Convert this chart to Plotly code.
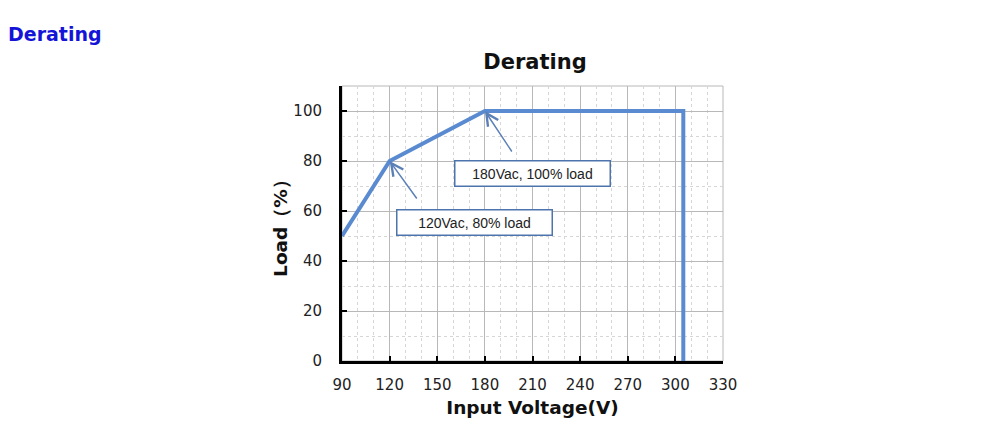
import plotly.graph_objects as go

# Data
voltage = [90, 120, 180, 305, 305]
load = [50, 80, 100, 100, 0]
x_ticks = [90, 120, 150, 180, 210, 240, 270, 300, 330]
y_ticks = [0, 20, 40, 60, 80, 100]
notes = ["120Vac, 80% load", "180Vac, 100% load"]
note_points_x = [120, 180]
note_points_y = [80, 100]

LINE = "#5a8ad0"
ARROW = "#5b80b8"
BOX = "#4d74ad"

fig = go.Figure()
fig.add_trace(go.Scatter(x=voltage, y=load, mode="lines",
                         line=dict(color=LINE, width=4), showlegend=False,
                         hoverinfo="x+y"))

# arrows (tail positions in data coords)
tails = [(137.8, 64.4), (197.6, 83.2)]
for px, py, (tx, ty) in zip(note_points_x, note_points_y, tails):
    fig.add_annotation(x=px, y=py, ax=tx, ay=ty, xref="x", yref="y",
                       axref="x", ayref="y", text="", showarrow=True,
                       arrowhead=5, arrowsize=1.6, arrowwidth=1.5,
                       arrowcolor=ARROW, standoff=0)

# label boxes
boxes = [(173.7, 55.5), (210.2, 75.0)]
for txt, (bx, by) in zip(notes, boxes):
    fig.add_annotation(x=bx, y=by, xref="x", yref="y", text=txt,
                       showarrow=False, xanchor="center", yanchor="middle",
                       font=dict(family="Liberation Sans, Arial", size=14, color="#222"),
                       bgcolor="white", bordercolor=BOX, borderwidth=1.5,
                       borderpad=2, width=150, height=20)

# page heading
fig.add_annotation(x=-0.881, y=1.189, xref="paper", yref="paper",
                   text="<b>Derating</b>", showarrow=False,
                   xanchor="left", yanchor="middle",
                   font=dict(family="DejaVu Sans", size=19, color="#1414d8"))

# plot frame (top/right gray)
fig.add_shape(type="rect", xref="paper", yref="paper", x0=0, y0=0, x1=1, y1=1,
              line=dict(color="#b8b8b8", width=1), layer="below")

fig.update_layout(
    width=1007, height=441,
    margin=dict(l=334, r=292, t=78, b=88, autoexpand=False),
    paper_bgcolor="white", plot_bgcolor="white",
    title=dict(text="<b>Derating</b>", x=527/1007, y=1-54/441,
               xanchor="center", yanchor="middle",
               font=dict(family="DejaVu Sans", size=21, color="#111")),
    font=dict(family="DejaVu Sans", color="#222"),
    xaxis=dict(range=[90, 330], tickvals=x_ticks, ticktext=[str(v) for v in x_ticks],
               showline=True, linecolor="black", linewidth=3,
               ticks="inside", ticklen=5, tickwidth=2, tickcolor="black",
               tickfont=dict(size=15, color="#222"), ticklabelstandoff=8,
               showgrid=True, gridcolor="#b8b8b8", gridwidth=1,
               minor=dict(dtick=10, tick0=90, showgrid=True, gridcolor="#d6d6d6",
                          griddash="dot", gridwidth=1),
               zeroline=False, fixedrange=True,
               title=dict(text="<b>Input Voltage(V)</b>", standoff=9,
                          font=dict(family="DejaVu Sans", size=18.5, color="#111"))),
    yaxis=dict(range=[0, 110], tickvals=y_ticks, ticktext=[str(v) for v in y_ticks],
               showline=True, linecolor="black", linewidth=3,
               ticks="inside", ticklen=5, tickwidth=2, tickcolor="black",
               tickfont=dict(size=15, color="#222"), ticklabelstandoff=14,
               showgrid=True, gridcolor="#b8b8b8", gridwidth=1,
               minor=dict(dtick=10, tick0=0, showgrid=True, gridcolor="#d6d6d6",
                          griddash="dot", gridwidth=1),
               zeroline=False, fixedrange=True,
               title=dict(text="<b>Load\uff08%\uff09</b>", standoff=1,
                          font=dict(family="DejaVu Sans", size=18.5, color="#111"))),
)

fig.write_html("out.html")
